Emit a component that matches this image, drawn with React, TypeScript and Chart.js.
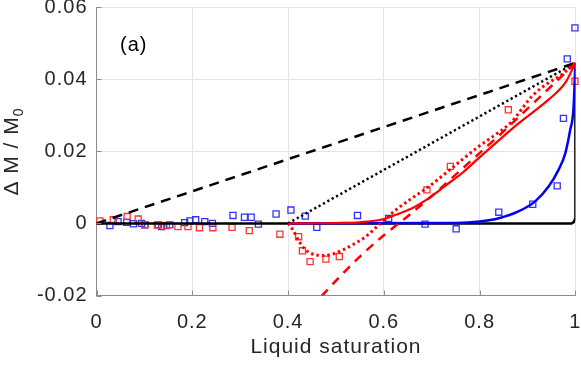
import React, { useEffect, useRef } from "react";
import { Chart, registerables } from "chart.js";

Chart.register(...registerables);

// ---- axes ----
const xTicks = [0, 0.2, 0.4, 0.6, 0.8, 1];
const yTicks = [-0.02, 0, 0.02, 0.04, 0.06];

// ---- measured points (squares) ----
const blueX = [0.028, 0.045, 0.063, 0.077, 0.094, 0.101, 0.129, 0.136, 0.153, 0.184, 0.195, 0.207, 0.226, 0.242, 0.285, 0.309, 0.323, 0.338, 0.375, 0.406, 0.436, 0.46, 0.545, 0.61, 0.686, 0.751, 0.84, 0.911, 0.962, 0.975, 0.983, 0.999];
const blueY = [-0.0006, 0.0005, 0.0003, -0.0001, 0, -0.0004, -0.0004, -0.0009, -0.0004, 0.0002, 0.0007, 0.001, 0.0005, 0, 0.0022, 0.0017, 0.0017, -0.0002, 0.0026, 0.0037, 0.002, -0.0011, 0.0022, 0.0014, -0.0002, -0.0015, 0.0031, 0.0053, 0.0104, 0.0291, 0.0456, 0.0542];

const redX = [0.007, 0.035, 0.064, 0.087, 0.101, 0.127, 0.146, 0.17, 0.191, 0.215, 0.243, 0.283, 0.319, 0.383, 0.422, 0.43, 0.446, 0.479, 0.507, 0.69, 0.739, 0.86, 0.999];
const redY = [0.0007, 0.001, 0.0019, 0.0012, -0.0004, -0.0005, -0.0006, -0.0009, -0.0009, -0.0012, -0.0012, -0.0011, -0.002, -0.003, -0.0037, -0.0076, -0.0106, -0.0099, -0.0092, 0.0093, 0.0158, 0.0315, 0.0394];

// ---- model curves ----
const blackSolidX = [0, 0.992, 0.997, 1, 1];
const blackSolidY = [0, 0, 0.0004, 0.0015, 0.0445];

const blackDashedX = [0, 1];
const blackDashedY = [0, 0.0445];

const blackDottedX = [0.4, 1];
const blackDottedY = [0, 0.0445];

const blueSolidX = [0.4, 0.75, 0.8, 0.84, 0.881, 0.916, 0.944, 0.965, 0.979, 0.989, 0.996, 1];
const blueSolidY = [0, 0.0001, 0.0005, 0.0014, 0.0033, 0.0061, 0.0102, 0.0149, 0.0195, 0.0258, 0.0318, 0.0445];

const redSolidX = [0.4, 0.5, 0.55, 0.6, 0.625, 0.659, 0.694, 0.729, 0.763, 0.798, 0.833, 0.87, 0.909, 0.944, 0.979, 1];
const redSolidY = [0, 0.0001, 0.0003, 0.0012, 0.0024, 0.0042, 0.007, 0.0105, 0.0139, 0.0181, 0.0222, 0.0265, 0.0306, 0.0343, 0.039, 0.0445];

const redDashedX = [0.47, 0.51, 0.55, 0.6, 0.65, 0.7, 0.75, 0.8, 0.85, 0.9, 0.95, 1];
const redDashedY = [-0.0202, -0.0145, -0.0092, -0.0033, 0.002, 0.0076, 0.0135, 0.0195, 0.0255, 0.0318, 0.0381, 0.0445];

const redDottedX = [0.4, 0.41, 0.423, 0.437, 0.451, 0.472, 0.493, 0.514, 0.534, 0.562, 0.59, 0.625, 0.659, 0.694, 0.729, 0.763, 0.798, 0.833, 0.867, 0.909, 0.944, 0.971, 1];
const redDottedY = [0, -0.0018, -0.005, -0.0074, -0.0085, -0.0089, -0.0085, -0.0074, -0.006, -0.0037, -0.0004, 0.0037, 0.007, 0.0102, 0.0139, 0.0176, 0.0213, 0.0246, 0.0282, 0.0352, 0.039, 0.0412, 0.0445];

const pts = (xs: number[], ys: number[]) => xs.map((x, i) => ({ x, y: ys[i] }));

const FONT = '"Liberation Sans", Arial, Helvetica, sans-serif';
const TEXT = "#262626";
const GRID = "#e3e3e3";
const AXIS = "#8c8c8c";

const fmt = (v: number) => parseFloat(Number(v).toFixed(3)).toString();

function setLS(c: any) {
  try {
    c.ctx.letterSpacing = "1px";
  } catch (e) {}
}

const decor = {
  id: "decor",
  beforeUpdate: (c: any) => setLS(c),
  beforeDraw: (c: any) => setLS(c),
  afterDraw: (c: any) => {
    const { ctx, chartArea: a, scales } = c;
    ctx.save();
    ctx.strokeStyle = AXIS;
    ctx.lineWidth = 1;
    yTicks.forEach((v) => {
      const py = Math.round(scales.y.getPixelForValue(v)) + 0.5;
      ctx.beginPath();
      ctx.moveTo(a.left, py);
      ctx.lineTo(a.left + 5, py);
      ctx.stroke();
    });
    xTicks.forEach((v) => {
      const px = Math.round(scales.x.getPixelForValue(v)) + 0.5;
      ctx.beginPath();
      ctx.moveTo(px, a.bottom);
      ctx.lineTo(px, a.bottom - 5);
      ctx.stroke();
    });
    ctx.letterSpacing = "1px";
    ctx.fillStyle = "#000";
    ctx.textAlign = "left";
    ctx.textBaseline = "alphabetic";
    ctx.font = `20px ${FONT}`;
    ctx.fillText("(a)", 120, 51);

    ctx.fillStyle = TEXT;
    ctx.translate(17.5, 151.5);
    ctx.rotate(-Math.PI / 2);
    const main = "\u0394 M / M";
    ctx.font = `21px ${FONT}`;
    const w1 = ctx.measureText(main).width;
    ctx.font = `14px ${FONT}`;
    const w2 = ctx.measureText("0").width;
    const start = -(w1 + w2) / 2;
    ctx.font = `21px ${FONT}`;
    ctx.fillText(main, start, 0);
    ctx.font = `14px ${FONT}`;
    ctx.fillText("0", start + w1, 5);
    ctx.restore();
  },
};

export default function App() {
  const ref = useRef<HTMLCanvasElement>(null);
  useEffect(() => {
    if (!ref.current) return;
    const line = (data: any, color: string, width: number, dash: number[], order: number, mono = true) => ({
      type: "scatter" as const,
      data,
      showLine: true,
      borderColor: color,
      backgroundColor: color,
      borderWidth: width,
      borderDash: dash,
      pointRadius: 0,
      pointHoverRadius: 0,
      tension: 0,
      cubicInterpolationMode: mono ? "monotone" : "default",
      order,
    });
    const marks = (data: any, color: string, order: number) => ({
      type: "scatter" as const,
      data,
      showLine: false,
      pointStyle: "rect",
      pointRadius: 4.3,
      borderColor: color,
      backgroundColor: "rgba(0,0,0,0)",
      borderWidth: 1.3,
      clip: false,
      order,
    });
    const chart = new Chart(ref.current, {
      type: "scatter",
      data: {
        datasets: [
          marks(pts(blueX, blueY), "#3333ff", 20),
          marks(pts(redX, redY), "#ff3333", 19),
          line(pts(blackSolidX, blackSolidY), "#000000", 2.5, [], 9, false),
          line(pts(blueSolidX, blueSolidY), "#0000ff", 2.5, [], 8),
          line(pts(redSolidX, redSolidY), "#ff0000", 2.2, [], 7),
          line(pts(blackDashedX, blackDashedY), "#000000", 2.5, [10, 7], 6, false),
          line(pts(blackDottedX, blackDottedY), "#000000", 2.5, [2.2, 2.8], 5, false),
          line(pts(redDashedX, redDashedY), "#ff0000", 2.5, [9, 7], 4),
          line(pts(redDottedX, redDottedY), "#ff0000", 3, [2.5, 3], 3),
        ] as any,
      },
      options: {
        animation: false,
        responsive: false,
        devicePixelRatio: 1,
        layout: { padding: { left: 0, top: 7, right: 4, bottom: 0 } },
        plugins: { legend: { display: false }, tooltip: { enabled: false } },
        events: [],
        scales: {
          x: {
            type: "linear",
            min: 0,
            max: 1,
            afterBuildTicks: (s: any) => {
              s.ticks = xTicks.map((v) => ({ value: v }));
            },
            afterFit: (s: any) => {
              s.height = 69.5;
              s.paddingLeft = 0;
              s.paddingRight = 0;
            },
            grid: { color: GRID, lineWidth: 1, drawTicks: false },
            border: { display: true, color: AXIS, width: 1 },
            ticks: {
              color: TEXT,
              font: { family: FONT, size: 20 },
              padding: 15,
              maxRotation: 0,
              callback: (v: any) => fmt(v),
            },
            title: {
              display: true,
              text: "Liquid saturation",
              color: TEXT,
              font: { family: FONT, size: 21 },
              padding: { top: 0, bottom: 5 },
            },
          },
          y: {
            type: "linear",
            min: -0.02,
            max: 0.06,
            afterBuildTicks: (s: any) => {
              s.ticks = yTicks.map((v) => ({ value: v }));
            },
            afterFit: (s: any) => {
              s.width = 96.5;
              s.paddingTop = 0;
              s.paddingBottom = 0;
            },
            grid: { color: GRID, lineWidth: 1, drawTicks: false },
            border: { display: true, color: AXIS, width: 1 },
            ticks: {
              color: TEXT,
              font: { family: FONT, size: 20 },
              padding: 9,
              callback: (v: any) => fmt(v),
            },
          },
        },
      } as any,
      plugins: [decor],
    });
    return () => chart.destroy();
  }, []);
  return (
    <div style={{ position: "fixed", left: 0, top: 0, width: 581, height: 365, background: "#fff" }}>
      <canvas ref={ref} width={581} height={365} style={{ display: "block", width: 581, height: 365 }} />
    </div>
  );
}
